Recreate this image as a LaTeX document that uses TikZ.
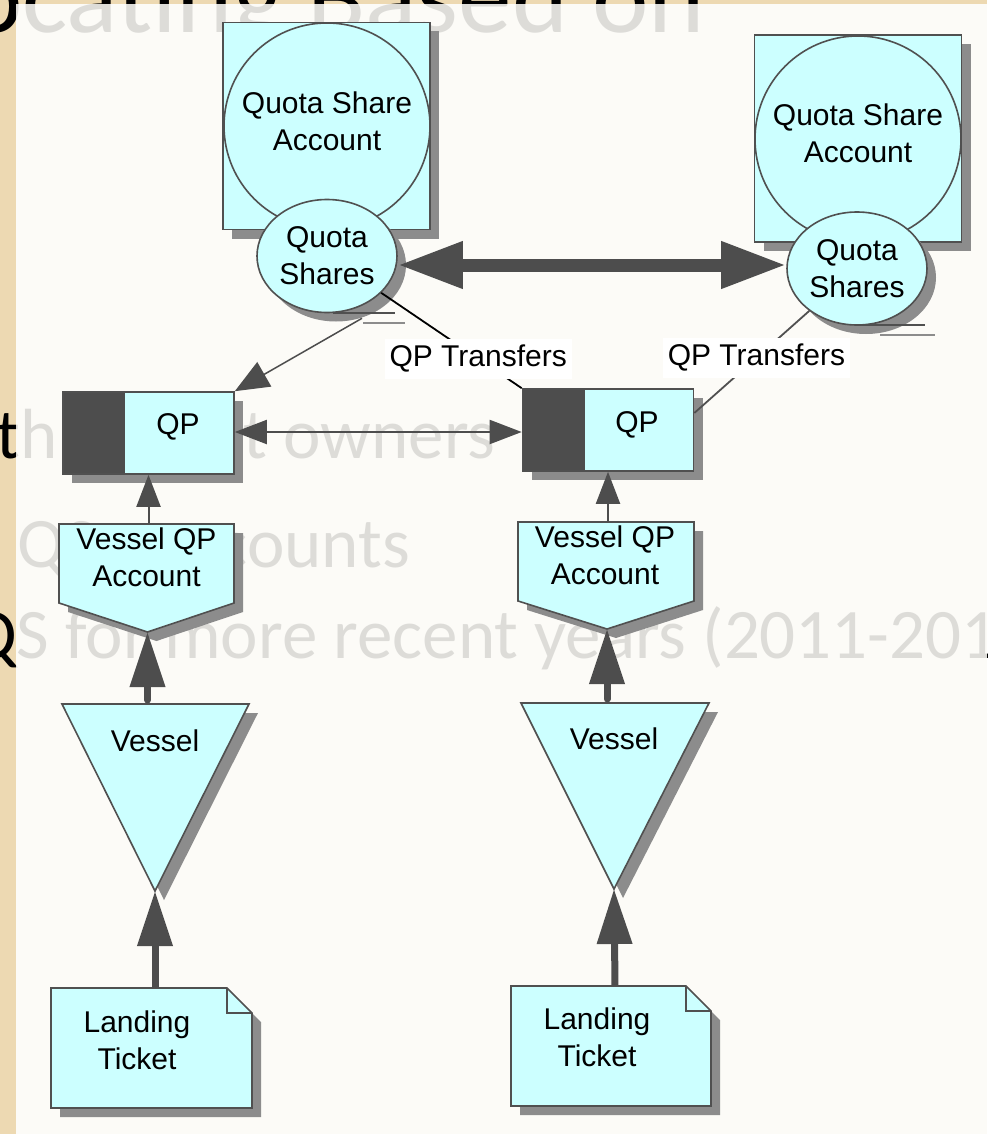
\documentclass[tikz,border=0pt]{standalone}
\usepackage{fontspec}
\newfontfamily\chartfont{Liberation Sans}
\newfontfamily\slidefont{Carlito}
\usetikzlibrary{arrows.meta}
\usetikzlibrary{shapes.geometric}
\usetikzlibrary{shadows}
\usetikzlibrary{calc}

\definecolor{qcyan}{HTML}{CCFFFF}
\definecolor{edge}{HTML}{505050}
\definecolor{qpdark}{HTML}{4D4D4D}
\definecolor{shadowgray}{HTML}{8C8C8C}
\definecolor{woodtan}{HTML}{EDD9B2}
\definecolor{paper}{HTML}{FCFBF7}

\tikzset{
  boxfill/.style={fill=qcyan, draw=edge, line width=1.6pt},
  dropped/.style={drop shadow={shadow xshift=9pt, shadow yshift=-9pt, fill=shadowgray, opacity=1}},
  txt/.style={font=\chartfont\fontsize{30}{37}\selectfont, align=center, inner sep=0pt},
  tlabel/.style={txt, text=black, fill=white, inner xsep=5pt, minimum height=40pt},
  qpbox/.style={boxfill, dropped, minimum width=171pt, minimum height=82pt, inner sep=0pt,
    path picture={\fill[qpdark] (path picture bounding box.north west) rectangle ([xshift=62pt]path picture bounding box.south west);}},
  flow/.style={draw=qpdark, line width=2pt, -{Triangle[length=32pt,width=24pt]}},
  bigflow/.style={draw=qpdark, line width=7pt, -{Triangle[length=55pt,width=34pt]}},
  link/.style={line width=1.8pt},
  slidetext/.style={font=\slidefont\fontsize{71}{84}\selectfont, anchor=base west, inner sep=0pt},
}

\begin{document}
\begin{tikzpicture}[x=1pt,y=-1pt]
\useasboundingbox (0,0) rectangle (987,1134);
\clip (0,0) rectangle (987,1134);
% slide behind the picture
\fill[woodtan] (0,0) rectangle (987,1134);
\fill[paper] (16,4) rectangle (987,1134);
\node[slidetext, font=\slidefont\fontsize{107}{110}\selectfont] (title) at (-34,33) {ocating Based on};
\node[slidetext] (lineA) at (-71,458) {with permit owners};
\node[slidetext] (lineB) at (17,567) {QS\hspace{40pt} accounts};
\node[slidetext] (lineC) at (-31,658) {QS for more recent years (2011-2014};
\fill[paper, opacity=.88] (16,4) rectangle (987,1134);

% quota share accounts
\node[boxfill, dropped, minimum size=207pt] (qsaL) at (326.5,126) {};
\node[boxfill, circle, minimum size=206pt] (qsaLc) at (327,126) {};
\node[txt] (qsaLt) at (327,121) {Quota Share\\Account};
\node[boxfill, dropped, ellipse, minimum width=140pt, minimum height=113pt, txt] (qsL) at (327,256) {Quota\\Shares};
\draw[edge, line width=1.5pt] (333,313) -- (395,313);
\draw[shadowgray, line width=1.5pt] (363,323) -- (405,323);

\node[boxfill, dropped, minimum size=207pt] (qsaR) at (858,138.5) {};
\node[boxfill, circle, minimum size=206pt] (qsaRc) at (858,139) {};
\node[txt] (qsaRt) at (858,133.5) {Quota Share\\Account};
\node[boxfill, dropped, ellipse, minimum width=140pt, minimum height=113pt, txt] (qsR) at (857,268.5) {Quota\\Shares};
\draw[edge, line width=1.5pt] (857,325) -- (925,325);
\draw[shadowgray, line width=1.5pt] (880,335) -- (935,335);

\draw[qpdark, line width=13pt, {Triangle[length=65pt,width=44pt]}-{Triangle[length=65pt,width=44pt]}] (qsL.east |- 0,265) -- (qsR.west |- 0,265);

% QP boxes
\node[qpbox] (qpL) at (148.5,433) {};
\node[txt] (qpLt) at (178,427) {QP};
\node[qpbox] (qpR) at (608,430) {};
\node[txt] (qpRt) at (637,425) {QP};

\draw[flow, {Triangle[length=32pt,width=24pt]}-{Triangle[length=32pt,width=24pt]}] (qpL.east |- 0,432) -- (qpR.west |- 0,432);
\draw[flow, line width=1.5pt, -{Triangle[length=34pt,width=28pt]}] ($(qsL.south)+(35,5)$) -- (qpL.north east);
\draw[link] (qsL) -- node[tlabel, pos=.69] (qptL) {QP Transfers} (qpR.north west);
\draw[link, draw=edge] (qsR) -- node[tlabel, pos=.46] (qptR) {QP Transfers} ([yshift=17pt]qpR.east);

% vessel QP accounts
\coordinate (vqaLtip) at (147.5,632);
\coordinate (vqaLtop) at (148.5,524);
\draw[boxfill, dropped] (59,524) -- (234,524) -- (234,603) -- (vqaLtip) -- (59,603) -- cycle;
\node[txt] (vqaL) at (146.5,557.5) {Vessel QP\\Account};
\draw[flow] (vqaLtop) -- (qpL.south);

\coordinate (vqaRtip) at (607,629);
\coordinate (vqaRtop) at (608,522);
\draw[boxfill, dropped] (518,522) -- (694,522) -- (694,601) -- (vqaRtip) -- (518,601) -- cycle;
\node[txt] (vqaR) at (605,555) {Vessel QP\\Account};
\draw[flow] (vqaRtop) -- (qpR.south);

% vessels
\coordinate (vesLtip) at (155,891);
\coordinate (vesLtop) at (147.5,700);
\draw[boxfill, dropped] (62,704) -- (249,704) -- (vesLtip) -- cycle;
\node[txt] (vesL) at (155,741) {Vessel};
\draw[bigflow, line cap=round] (vesLtop) -- (vqaLtip);

\coordinate (vesRtip) at (614,889);
\coordinate (vesRtop) at (607,699);
\draw[boxfill, dropped] (521,703) -- (709,703) -- (vesRtip) -- cycle;
\node[txt] (vesR) at (614,739) {Vessel};
\draw[bigflow, line cap=round] (vesRtop) -- (vqaRtip);

% landing tickets
\coordinate (tktLtop) at (155,988);
\draw[boxfill, dropped] (51,988) -- (227,988) -- (252,1013) -- (252,1108) -- (51,1108) -- cycle;
\draw[edge, line width=1.6pt] (227,988) -- (227,1013) -- (252,1013);
\node[txt] (tktL) at (137,1040) {Landing\\Ticket};
\draw[bigflow] (tktLtop) -- (vesLtip);

\coordinate (tktRtop) at (615,986);
\draw[boxfill, dropped] (511,986) -- (686,986) -- (711,1011) -- (711,1106) -- (511,1106) -- cycle;
\draw[edge, line width=1.6pt] (686,986) -- (686,1011) -- (711,1011);
\node[txt] (tktR) at (597,1037) {Landing\\Ticket};
\draw[bigflow] (tktRtop) -- (vesRtip);
\end{tikzpicture}
\end{document}
